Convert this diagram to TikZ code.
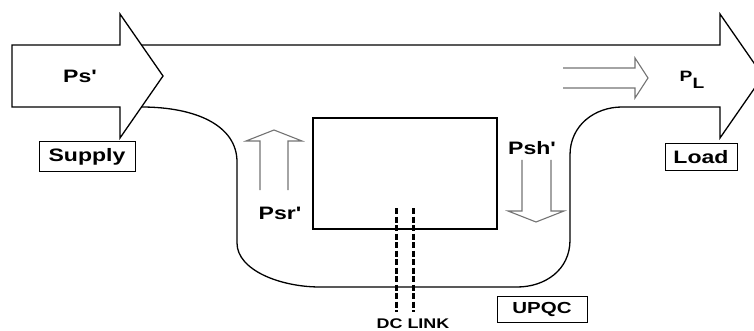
\documentclass[tikz,border=0pt]{standalone}
\usepackage{fontspec}
\setmainfont{Liberation Sans}
\usetikzlibrary{positioning}
\newcommand{\widen}[1]{\scalebox{1.28}[1]{#1}}
\tikzset{
  outline/.style={draw=black, line width=1.3pt, line join=miter},
  tagbox/.style={draw=black, line width=1pt, inner sep=0pt, font=\fontsize{18}{20}\selectfont\bfseries},
  flowlabel/.style={inner sep=0pt, font=\fontsize{18}{20}\selectfont\bfseries},
  hollow/.style={draw=black!55, line width=1.1pt},
  dclink/.style={draw=black, line width=3pt, dash pattern=on 6pt off 2.5pt}
}
\begin{document}
\begin{tikzpicture}[x=1pt,y=-1pt]
\useasboundingbox (0,0) rectangle (754,331);
% supply arrow
\draw[outline] (12,45) -- (120,45) -- (120,14) -- (163,76) -- (120,138) -- (120,107) -- (12,107) -- cycle;
% upqc loop and load arrow
\draw[outline] (141.5,45) -- (720,45) -- (720,14) -- (763,76) -- (720,138) -- (720,107) -- (622,107)
  .. controls (595,107) and (570,125) .. (570,155) -- (570,240)
  .. controls (570,270) and (545,287) .. (517,287) -- (320,287)
  .. controls (280,287) and (237,270) .. (237,243) -- (237,162)
  .. controls (237,125) and (195,107) .. (141.5,107);
% converter block
\node[draw=black, line width=1.1pt, minimum width=184pt, minimum height=111pt] (conv) at (405,173.5) {};
% dc link
\coordinate (dcA) at (396,208);
\coordinate (dcB) at (413,208);
\node[flowlabel, font=\fontsize{14}{16}\selectfont\bfseries] (dc) at (413,324) {\widen{DC LINK}};
\draw[dclink] (dcA) -- (dcA |- 0,312);
\draw[dclink] (dcB) -- (dcB |- 0,312);
% small power arrows
\draw[hollow] (260,190) -- (260,141) -- (246,141) -- (274,130) -- (302,141) -- (288,141) -- (288,190);
\draw[hollow] (522,160) -- (522,211) -- (508,211) -- (536,222) -- (564,211) -- (551,211) -- (551,160);
\draw[hollow] (563,68) -- (635,68) -- (635,58) -- (648,78) -- (635,98) -- (635,88) -- (563,88);
% labels
\node[flowlabel] (ps) at (80,76) {\widen{Ps\textquotesingle}};
\node[flowlabel] (psr) at (280,213) {\widen{Psr\textquotesingle}};
\node[flowlabel] (psh) at (532,148) {\widen{Psh\textquotesingle}};
\node[flowlabel, font=\fontsize{15}{17}\selectfont\bfseries] (pl) at (692,80) {\widen{P\raisebox{-7pt}{L}}};
\node[tagbox, minimum width=96pt, minimum height=30pt] (supply) at (87,157) {\widen{Supply}};
\node[tagbox, minimum width=72pt, minimum height=27pt] (load) at (701,157.5) {\widen{Load}};
\node[tagbox, font=\fontsize{16}{18}\selectfont\bfseries, minimum width=90pt, minimum height=26pt] (upqc) at (542,309) {\widen{UPQC}};
\end{tikzpicture}
\end{document}
